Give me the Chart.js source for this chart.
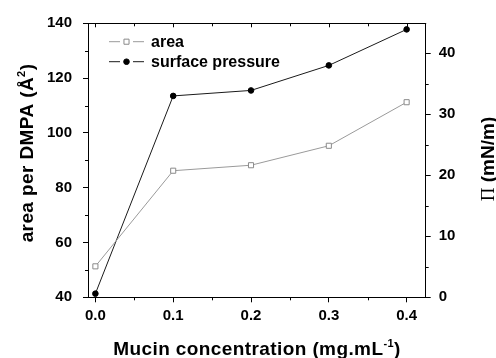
<!DOCTYPE html>
<html>
<head>
<meta charset="utf-8">
<script src="https://cdn.jsdelivr.net/npm/chart.js@4/dist/chart.umd.min.js"></script>
<style>
  html, body { margin: 0; padding: 0; background: #fff; }
  #wrap { width: 496px; height: 358px; position: relative; }
</style>
</head>
<body>
<div id="wrap"><canvas id="c" width="496" height="358"></canvas></div>
<script>
// ---- data ----
const concentrations = [0, 0.1, 0.2, 0.3, 0.4];
const areaValues = [51.3, 86.2, 88.2, 95.3, 111.2];
const pressureValues = [0.6, 33.0, 33.9, 38.0, 43.9];

// ---- tick labels ----
const xTicks = [0, 0.1, 0.2, 0.3, 0.4];
const xMinorTicks = [0.05, 0.15, 0.25, 0.35];
const leftTicks = [40, 60, 80, 100, 120, 140];
const leftMinorTicks = [50, 70, 90, 110, 130];
const rightTicks = [0, 10, 20, 30, 40];
const rightMinorTicks = [5, 15, 25, 35];

const seriesLabels = ['area', 'surface pressure'];
const xTitle = ['Mucin concentration (mg.mL', '-1', ')'];
const leftTitle = ['area per DMPA (Å', '2', ')'];
const rightTitle = ['Π', ' (mN/m)'];

const SANS = '"Liberation Sans", Arial, sans-serif';
const SERIF = '"Liberation Serif", "Times New Roman", serif';
const tickFont = { family: SANS, size: 15, weight: 'bold' };

const toPoints = (xs, ys) => xs.map((x, i) => ({ x: x, y: ys[i] }));

const decorPlugin = {
  id: 'decor',
  afterDraw(chart) {
    const { ctx, chartArea: ca, scales } = chart;
    const sx = scales.x, sy = scales.y, sy2 = scales.y2;
    const px = v => Math.round(v) + 0.5;
    ctx.save();
    ctx.strokeStyle = '#000';
    ctx.lineWidth = 1;
    ctx.beginPath();
    // top frame
    ctx.moveTo(ca.left, px(ca.top));
    ctx.lineTo(ca.right + 0.5, px(ca.top));
    // top ticks (inward)
    xTicks.forEach(v => { const X = px(sx.getPixelForValue(v)); ctx.moveTo(X, ca.top); ctx.lineTo(X, ca.top + 4); });
    xMinorTicks.forEach(v => { const X = px(sx.getPixelForValue(v)); ctx.moveTo(X, ca.top); ctx.lineTo(X, ca.top + 3); });
    // bottom minor ticks (outward)
    xMinorTicks.forEach(v => { const X = px(sx.getPixelForValue(v)); ctx.moveTo(X, ca.bottom); ctx.lineTo(X, ca.bottom + 3); });
    // left minor ticks
    leftMinorTicks.forEach(v => { const Y = px(sy.getPixelForValue(v)); ctx.moveTo(ca.left, Y); ctx.lineTo(ca.left - 3, Y); });
    // right minor ticks
    rightMinorTicks.forEach(v => { const Y = px(sy2.getPixelForValue(v)); ctx.moveTo(ca.right, Y); ctx.lineTo(ca.right + 3, Y); });
    ctx.stroke();

    // legend
    chart.data.datasets.forEach((ds, i) => {
      const yy = 41.7 + i * 20;
      ctx.strokeStyle = ds.borderColor;
      ctx.lineWidth = 1;
      ctx.beginPath();
      ctx.moveTo(109, yy); ctx.lineTo(120, yy);
      ctx.moveTo(133, yy); ctx.lineTo(144, yy);
      ctx.stroke();
      ctx.fillStyle = ds.pointBackgroundColor;
      ctx.strokeStyle = ds.pointBorderColor;
      ctx.lineWidth = ds.pointBorderWidth;
      Chart.helpers.drawPoint(ctx, { pointStyle: ds.pointStyle, radius: ds.pointRadius, rotation: 0, borderWidth: ds.pointBorderWidth }, 126.5, yy);
      ctx.fillStyle = '#000';
      ctx.font = 'bold 16px ' + SANS;
      ctx.textBaseline = 'middle';
      ctx.textAlign = 'left';
      ctx.fillText(ds.label, 151, yy + 0.5);
    });

    // helper for text with superscript
    function supText(parts, cx, by, size) {
      ctx.textBaseline = 'alphabetic';
      ctx.textAlign = 'left';
      try { ctx.letterSpacing = '0.4px'; } catch (e) {}
      const fMain = 'bold ' + size + 'px ' + SANS;
      const fSup = 'bold ' + Math.round(size * 0.6) + 'px ' + SANS;
      ctx.font = fMain; const w0 = ctx.measureText(parts[0]).width;
      ctx.font = fSup; const w1 = ctx.measureText(parts[1]).width;
      ctx.font = fMain; const w2 = ctx.measureText(parts[2]).width;
      let x0 = cx - (w0 + w1 + w2) / 2;
      ctx.font = fMain; ctx.fillText(parts[0], x0, by);
      ctx.font = fSup; ctx.fillText(parts[1], x0 + w0, by - 8);
      ctx.font = fMain; ctx.fillText(parts[2], x0 + w0 + w1, by);
    }
    ctx.fillStyle = '#000';
    // x title
    supText(xTitle, 257, 355, 19);
    // left title
    ctx.save();
    ctx.translate(33, 153);
    ctx.rotate(-Math.PI / 2);
    supText(leftTitle, 0, 0, 19);
    ctx.restore();
    // right title
    ctx.save();
    ctx.translate(494, 159);
    ctx.rotate(-Math.PI / 2);
    try { ctx.letterSpacing = '0px'; } catch (e) {}
    ctx.textBaseline = 'alphabetic';
    ctx.textAlign = 'left';
    const fPi = '19px ' + SERIF, fR = 'bold 19px ' + SANS;
    ctx.font = fPi; const wp = ctx.measureText(rightTitle[0]).width;
    ctx.font = fR; const wr = ctx.measureText(rightTitle[1]).width;
    const s0 = -(wp + wr) / 2;
    ctx.font = fPi; ctx.fillText(rightTitle[0], s0, 0);
    ctx.font = fR; ctx.fillText(rightTitle[1], s0 + wp, 0);
    ctx.restore();
    ctx.restore();
  }
};

new Chart(document.getElementById('c'), {
  type: 'line',
  data: {
    datasets: [
      {
        label: seriesLabels[0],
        data: toPoints(concentrations, areaValues),
        yAxisID: 'y',
        borderColor: '#9a9a9a',
        borderWidth: 1,
        pointStyle: 'rect',
        pointRadius: 3.6,
        pointBorderWidth: 1,
        pointBackgroundColor: '#ffffff',
        pointBorderColor: '#8a8a8a',
        tension: 0,
        fill: false
      },
      {
        label: seriesLabels[1],
        data: toPoints(concentrations, pressureValues),
        yAxisID: 'y2',
        borderColor: '#1a1a1a',
        borderWidth: 1,
        pointStyle: 'circle',
        pointRadius: 2.8,
        pointBorderWidth: 1,
        pointBackgroundColor: '#000000',
        pointBorderColor: '#000000',
        tension: 0,
        fill: false
      }
    ]
  },
  options: {
    responsive: false,
    animation: false,
    devicePixelRatio: 1,
    layout: { padding: { top: 23.3, left: 0, right: 0, bottom: 0 } },
    plugins: { legend: { display: false }, tooltip: { enabled: false }, title: { display: false } },
    scales: {
      x: {
        type: 'linear',
        position: 'bottom',
        min: -0.0095,
        max: 0.4245,
        afterBuildTicks: s => { s.ticks = xTicks.map(v => ({ value: v })); },
        afterFit: s => { s.height = 60.7; },
        ticks: { font: tickFont, color: '#000', padding: 5, maxRotation: 0, autoSkip: false, callback: v => Number(v).toFixed(1) },
        grid: { drawOnChartArea: false, drawTicks: true, tickLength: 5, color: '#000', lineWidth: 1 },
        border: { display: true, color: '#000', width: 1 }
      },
      y: {
        type: 'linear',
        position: 'left',
        min: 40,
        max: 140,
        afterBuildTicks: s => { s.ticks = leftTicks.map(v => ({ value: v })); },
        afterFit: s => { s.width = 88; },
        ticks: { font: tickFont, color: '#000', padding: 11, autoSkip: false },
        grid: { drawOnChartArea: false, drawTicks: true, tickLength: 5, color: '#000', lineWidth: 1 },
        border: { display: true, color: '#000', width: 1 }
      },
      y2: {
        type: 'linear',
        position: 'right',
        min: 0,
        max: 44.9,
        afterBuildTicks: s => { s.ticks = rightTicks.map(v => ({ value: v })); },
        afterFit: s => { s.width = 70.3; },
        ticks: { font: tickFont, color: '#000', padding: 8, autoSkip: false },
        grid: { drawOnChartArea: false, drawTicks: true, tickLength: 5, color: '#000', lineWidth: 1 },
        border: { display: true, color: '#000', width: 1 }
      }
    }
  },
  plugins: [decorPlugin]
});
</script>
</body>
</html>
